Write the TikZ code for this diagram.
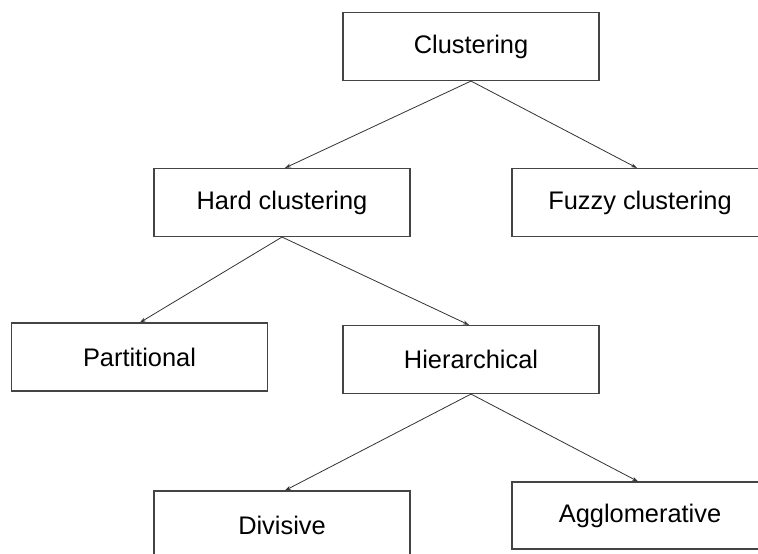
\documentclass[tikz,border=0pt]{standalone}
\usepackage{fontspec}
\setmainfont{Liberation Sans}
\usetikzlibrary{arrows.meta}
\definecolor{boxline}{HTML}{444444}
\definecolor{arrline}{HTML}{333333}
\begin{document}
\begin{tikzpicture}[x=1pt,y=-1pt,
  box/.style={draw=boxline,line width=1.1pt,rectangle,minimum width=256pt,minimum height=68pt,inner sep=0pt,font=\fontsize{25.4}{30}\selectfont,text=black},
  link/.style={draw=arrline,line width=0.8pt,-{Stealth[length=6pt,width=4pt]}}]
\useasboundingbox (0,0) rectangle (758,554);
\clip (0,0) rectangle (758,554);
\fill[white] (0,0) rectangle (758,554);
\node[box] (clu) at (471,46.5) {Clustering};
\node[box] (hard) at (282,202.5) {Hard clustering};
\node[box] (fuzzy) at (640,202.5) {Fuzzy clustering};
\node[box] (part) at (139.5,357) {Partitional};
\node[box] (hier) at (471,359.5) {Hierarchical};
\node[box,minimum height=69pt] (div) at (282,525.5) {Divisive};
\node[box,minimum height=67pt] (agg) at (640,515.5) {Agglomerative};
\draw[link] (clu.south) -- ([xshift=3pt]hard.north);
\draw[link] (clu.south) -- ([xshift=-3pt]fuzzy.north);
\draw[link] (hard.south) -- ([xshift=0.5pt]part.north);
\draw[link] (hard.south) -- ([xshift=-2pt]hier.north);
\draw[link] (hier.south) -- ([xshift=3pt]div.north);
\draw[link] (hier.south) -- ([xshift=-2pt]agg.north);
\end{tikzpicture}
\end{document}
